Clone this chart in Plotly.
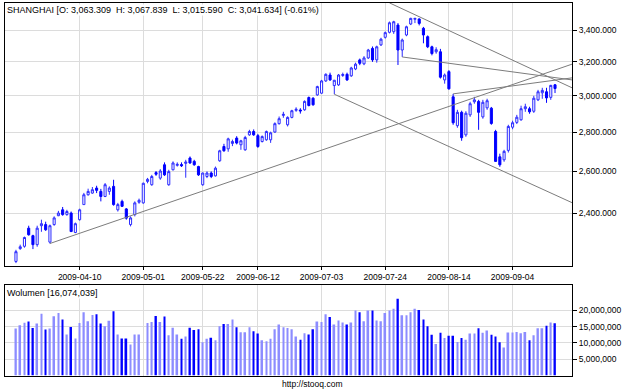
import numpy as np
import plotly.graph_objects as go

# ---------------- data ----------------
dates = [
    "2009-03-19", "2009-03-20", "2009-03-23", "2009-03-24", "2009-03-25", "2009-03-26", "2009-03-27", "2009-03-30", "2009-03-31",
    "2009-04-01", "2009-04-02", "2009-04-03", "2009-04-07", "2009-04-08", "2009-04-09", "2009-04-10", "2009-04-13", "2009-04-14",
    "2009-04-15", "2009-04-16", "2009-04-17", "2009-04-20", "2009-04-21", "2009-04-22", "2009-04-23", "2009-04-24", "2009-04-27",
    "2009-04-28", "2009-04-29", "2009-04-30",
    "2009-05-04", "2009-05-05", "2009-05-06", "2009-05-07", "2009-05-08", "2009-05-11", "2009-05-12", "2009-05-13", "2009-05-14",
    "2009-05-15", "2009-05-18", "2009-05-19", "2009-05-20", "2009-05-21", "2009-05-22", "2009-05-25", "2009-05-26", "2009-05-27",
    "2009-06-01", "2009-06-02", "2009-06-03", "2009-06-04", "2009-06-05", "2009-06-08", "2009-06-09", "2009-06-10", "2009-06-11",
    "2009-06-12", "2009-06-15", "2009-06-16", "2009-06-17", "2009-06-18", "2009-06-19", "2009-06-22", "2009-06-23", "2009-06-24",
    "2009-06-25", "2009-06-26", "2009-06-29", "2009-06-30",
    "2009-07-01", "2009-07-02", "2009-07-03", "2009-07-06", "2009-07-07", "2009-07-08", "2009-07-09", "2009-07-10", "2009-07-13",
    "2009-07-14", "2009-07-15", "2009-07-16", "2009-07-17", "2009-07-20", "2009-07-21", "2009-07-22", "2009-07-23", "2009-07-24",
    "2009-07-27", "2009-07-28", "2009-07-29", "2009-07-30", "2009-07-31",
    "2009-08-03", "2009-08-04", "2009-08-05", "2009-08-06", "2009-08-07", "2009-08-10", "2009-08-11", "2009-08-12", "2009-08-13",
    "2009-08-14", "2009-08-17", "2009-08-18", "2009-08-19", "2009-08-20", "2009-08-21", "2009-08-24", "2009-08-25", "2009-08-26",
    "2009-08-27", "2009-08-28", "2009-08-31",
    "2009-09-01", "2009-09-02", "2009-09-03", "2009-09-04", "2009-09-07", "2009-09-08", "2009-09-09", "2009-09-10", "2009-09-11",
    "2009-09-14", "2009-09-15", "2009-09-16", "2009-09-17", "2009-09-18",
]
holidays = ["2009-04-06", "2009-05-01", "2009-05-28", "2009-05-29"]

opens = [
    2189, 2243, 2253, 2332, 2299, 2260, 2343, 2348, 2271, 2348, 2388, 2415, 2393, 2400, 2313, 2370,
    2439, 2485, 2493, 2517, 2501, 2477, 2501, 2525, 2415, 2454, 2419, 2348, 2393, 2450,
    2447, 2549, 2533, 2592, 2565, 2631, 2533, 2606, 2628, 2632, 2638, 2665, 2648, 2622, 2533, 2573, 2590, 2576,
    2651, 2724, 2712, 2740, 2768, 2733, 2707, 2785, 2803, 2781, 2750, 2759, 2759, 2800, 2845, 2890, 2839, 2879,
    2918, 2920, 2921, 2990, 2986, 3005, 3015, 3086, 3121, 3059, 3063, 3118, 3125, 3116, 3157, 3212, 3188, 3224,
    3283, 3212, 3305, 3353, 3385, 3389, 3432, 3273, 3368, 3439, 3470, 3472, 3411, 3357, 3293, 3262, 3262, 3092,
    3141, 2994, 2834, 2907, 2785, 2893, 2966, 2968, 2882, 2932, 2930, 2803, 2671, 2656, 2704, 2826, 2852, 2866,
    2927, 2927, 2913, 2977, 3017, 3023, 2991, 3063.309,
]
highs = [
    2238, 2260, 2295, 2343, 2303, 2343, 2370, 2361, 2348, 2385, 2410, 2428, 2415, 2407, 2357, 2420,
    2494, 2514, 2522, 2528, 2513, 2541, 2525, 2557, 2447, 2462, 2423, 2385, 2454, 2467,
    2543, 2566, 2581, 2600, 2609, 2643, 2606, 2648, 2643, 2643, 2656, 2673, 2656, 2626, 2592, 2598, 2598, 2622,
    2707, 2738, 2770, 2760, 2778, 2759, 2780, 2812, 2814, 2790, 2782, 2808, 2802, 2852, 2884, 2910, 2885, 2921,
    2935, 2930, 2974, 2996, 2992, 3058, 3092, 3131, 3135, 3092, 3127, 3135, 3135, 3170, 3195, 3220, 3235, 3280,
    3295, 3300, 3350, 3390, 3455, 3460, 3445, 3345, 3428, 3480, 3478, 3476, 3420, 3365, 3300, 3290, 3280, 3130,
    3150, 3011, 2921, 2916, 2913, 2966, 2994, 2977, 2977, 2983, 2937, 2812, 2687, 2707, 2839, 2861, 2893, 2944,
    2955, 2938, 3000, 3034, 3046, 3046, 3063, 3067.839,
]
lows = [
    2182, 2238, 2247, 2299, 2241, 2251, 2316, 2320, 2265, 2343, 2386, 2388, 2388, 2315, 2310, 2366,
    2439, 2481, 2490, 2493, 2454, 2474, 2485, 2434, 2407, 2428, 2370, 2340, 2385, 2443,
    2443, 2540, 2528, 2576, 2557, 2576, 2528, 2603, 2622, 2620, 2567, 2636, 2626, 2576, 2528, 2565, 2565, 2573,
    2646, 2697, 2697, 2726, 2735, 2707, 2702, 2780, 2780, 2717, 2745, 2754, 2743, 2796, 2840, 2877, 2830, 2874,
    2910, 2900, 2916, 2940, 2944, 3000, 3011, 3080, 3086, 3009, 3057, 3110, 3086, 3110, 3150, 3180, 3180, 3218,
    3200, 3195, 3298, 3345, 3378, 3375, 3181, 3230, 3360, 3432, 3445, 3430, 3315, 3285, 3240, 3250, 3100, 3070,
    3035, 2839, 2823, 2754, 2775, 2882, 2955, 2812, 2872, 2921, 2839, 2646, 2621, 2646, 2693, 2815, 2843, 2861,
    2910, 2899, 2904, 2970, 2983, 2960, 2977, 3015.590,
]
closes = [
    2230, 2251, 2291, 2303, 2260, 2332, 2352, 2325, 2343, 2378, 2400, 2393, 2407, 2317, 2352, 2415,
    2485, 2501, 2509, 2506, 2477, 2533, 2517, 2439, 2439, 2431, 2377, 2378, 2447, 2459,
    2540, 2559, 2573, 2584, 2600, 2581, 2597, 2640, 2633, 2626, 2645, 2640, 2631, 2581, 2590, 2590, 2573, 2614,
    2702, 2702, 2764, 2750, 2742, 2754, 2771, 2803, 2785, 2724, 2776, 2803, 2796, 2845, 2872, 2896, 2879, 2916,
    2924, 2915, 2968, 2945, 2949, 3053, 3086, 3125, 3092, 3090, 3121, 3124, 3092, 3163, 3186, 3191, 3224, 3273,
    3212, 3293, 3341, 3383, 3447, 3454, 3273, 3336, 3421, 3476, 3476, 3443, 3368, 3293, 3251, 3275, 3108, 3121,
    3040, 2850, 2907, 2770, 2902, 2955, 2977, 2907, 2963, 2972, 2846, 2648, 2631, 2699, 2830, 2850, 2880, 2927,
    2938, 2910, 2986, 3023, 3031, 2988, 3060, 3041.634,
]
# volume in millions of shares (None = no bar drawn)
volume_mln = [
    14.4, 15.4, 16.2, 16.6, 14.6, 16.0, 19.0, 14.1, 14.4, 18.2, 19.2, 17.2, 12.6, 14.9, 11.4, 16.1,
    19.4, 16.7, 18.6, 18.8, 16.0, 15.1, 16.8, 19.7, 12.6, 11.4, 11.4, 9.5, 12.6, 12.6,
    None, 16.1, 16.4, 18.3, 16.4, 18.1, 12.4, 14.7, 12.6, 11.3, 12.0, 14.7, 14.0, 14.2, 10.2, 11.3, 11.6, 10.8,
    15.1, 15.8, 15.8, 17.2, 14.8, 13.3, 13.3, 14.8, 13.6, 12.9, 10.8, 10.5, 11.3, 14.2, 15.7, 14.8, 14.6, 14.2,
    12.0, 11.0, 13.0, 12.6, 14.2, 16.6, 16.4, 18.8, 18.0, 15.7, 16.9, 16.3, 15.7, 16.3, 20.0, 19.4, 16.7, 20.0,
    20.0, 16.9, 16.7, 19.2, 20.0, 20.5, 23.6, 18.5, 18.5, 19.4, 20.5, 20.1, 17.2, 15.1, 12.5, 9.7, 13.1, 11.5,
    12.2, 12.2, 10.3, 11.5, 11.0, 12.9, 12.9, 14.5, 13.1, 13.8, 12.5, 12.0, 10.2, 8.6, 13.2, 13.2, 13.4, 13.0,
    13.4, 10.8, 12.4, 14.5, 14.5, 15.3, 16.3, 16.074039,
]

price_ticks = [2400, 2600, 2800, 3000, 3200, 3400]
price_tick_labels = ["2,400.000", "2,600.000", "2,800.000", "3,000.000", "3,200.000", "3,400.000"]
volume_ticks = [5e6, 10e6, 15e6, 20e6]
volume_tick_labels = ["5,000,000", "10,000,000", "15,000,000", "20,000,000"]
date_ticks = ["2009-04-10", "2009-05-01", "2009-05-22", "2009-06-12", "2009-07-03", "2009-07-24", "2009-08-14", "2009-09-04"]

# trend lines drawn on the chart: (start date, start price, end date, end price)
trend_start_dates = ["2009-03-31", "2009-07-08", "2009-07-27", "2009-07-30", "2009-08-17"]
trend_start_prices = [2265, 3009, 3580, 3230, 3011]
trend_end_dates = ["2009-09-24", "2009-09-24", "2009-09-24", "2009-09-24", "2009-09-24"]
trend_end_prices = [3186, 2448, 3046, 3092, 3104]

title_text = "SHANGHAI [O: 3,063.309  H: 3,067.839  L: 3,015.590  C: 3,041.634] (-0.61%)"
volume_title = "Wolumen [16,074,039]"
source_text = "http://stooq.com"

# ---------------- helpers ----------------
def pos(d):
    """trading-day position on the axis (weekends and holidays skipped)"""
    return int(np.busday_count(dates[0], d, holidays=holidays))

xpos = [pos(d) for d in dates]
volume = [None if v is None else v * 1e6 for v in volume_mln]
vol_colors = ["#8c8cff" if c >= o else "#0000ff" for o, c in zip(opens, closes)]

W, H = 625, 391
FONT = "Liberation Sans"
x_dom = [4.5 / W, 572 / W]
y_main = [1 - 266 / H, 1 - 3 / H]
y_vol = [1 - 375.5 / H, 1 - 285 / H]
x_range = [-2.7, 131]

fig = go.Figure()

for sd, sp, ed, ep in zip(trend_start_dates, trend_start_prices, trend_end_dates, trend_end_prices):
    fig.add_trace(go.Scatter(
        x=[pos(sd), pos(ed)], y=[sp, ep], mode="lines",
        line=dict(color="#7c7c7c", width=1), hoverinfo="skip",
        showlegend=False, xaxis="x", yaxis="y"))

fig.add_trace(go.Candlestick(
    x=xpos, open=opens, high=highs, low=lows, close=closes,
    increasing=dict(line=dict(color="#2a2aff", width=1), fillcolor="#ffffff"),
    decreasing=dict(line=dict(color="#0000ff", width=1), fillcolor="#0000ff"),
    whiskerwidth=0, showlegend=False, hoverinfo="skip", xaxis="x", yaxis="y"))

fig.add_trace(go.Bar(
    x=xpos, y=volume, width=0.4, marker=dict(color=vol_colors, line=dict(width=0)),
    showlegend=False, hoverinfo="skip", xaxis="x2", yaxis="y2"))

tickpos = [pos(d) for d in date_ticks]
grid = "#dcdcdc"
tickfont = dict(family=FONT, size=8.5, color="#000000")

fig.update_layout(
    width=W, height=H, margin=dict(l=0, r=0, t=0, b=0),
    paper_bgcolor="white", plot_bgcolor="white", showlegend=False,
    xaxis=dict(domain=x_dom, range=x_range, anchor="y", tickvals=tickpos, ticktext=date_ticks,
               showgrid=True, gridcolor=grid, gridwidth=1, zeroline=False,
               showline=True, mirror=True, linecolor="#000000", linewidth=1,
               ticks="outside", ticklen=3, tickcolor="#000000", tickfont=tickfont,
               rangeslider=dict(visible=False)),
    yaxis=dict(domain=y_main, type="log",
               range=[np.log10(2170.1), np.log10(3579.2)], anchor="x", side="right",
               tickvals=price_ticks, ticktext=price_tick_labels,
               showgrid=True, gridcolor=grid, gridwidth=1, zeroline=False,
               showline=True, mirror=True, linecolor="#000000", linewidth=1,
               ticks="outside", ticklen=4, tickcolor="#000000", tickfont=tickfont),
    xaxis2=dict(domain=x_dom, range=x_range, anchor="y2", tickvals=tickpos,
                showticklabels=False, showgrid=True, gridcolor=grid, gridwidth=1, zeroline=False,
                showline=True, mirror=True, linecolor="#000000", linewidth=1, ticks=""),
    yaxis2=dict(domain=y_vol, range=[0, 27.8e6], anchor="x2", side="right",
                tickvals=volume_ticks, ticktext=volume_tick_labels,
                showgrid=True, gridcolor=grid, gridwidth=1, zeroline=False,
                showline=True, mirror=True, linecolor="#000000", linewidth=1,
                ticks="outside", ticklen=4, tickcolor="#000000", tickfont=tickfont),
    annotations=[
        dict(text=title_text, xref="paper", yref="paper", x=6 / W, y=1 - 3.5 / H,
             xanchor="left", yanchor="top", showarrow=False, bgcolor="white",
             font=dict(family=FONT, size=9, color="#000000"), borderpad=0),
        dict(text=volume_title, xref="paper", yref="paper", x=6 / W, y=1 - 287 / H,
             xanchor="left", yanchor="top", showarrow=False, bgcolor="white",
             font=dict(family=FONT, size=9, color="#000000"), borderpad=0),
        dict(text=source_text, xref="paper", yref="paper", x=312 / W, y=1 - 384 / H,
             xanchor="center", yanchor="middle", showarrow=False,
             font=dict(family=FONT, size=8.5, color="#000000")),
    ],
)

fig.write_html("out.html")
